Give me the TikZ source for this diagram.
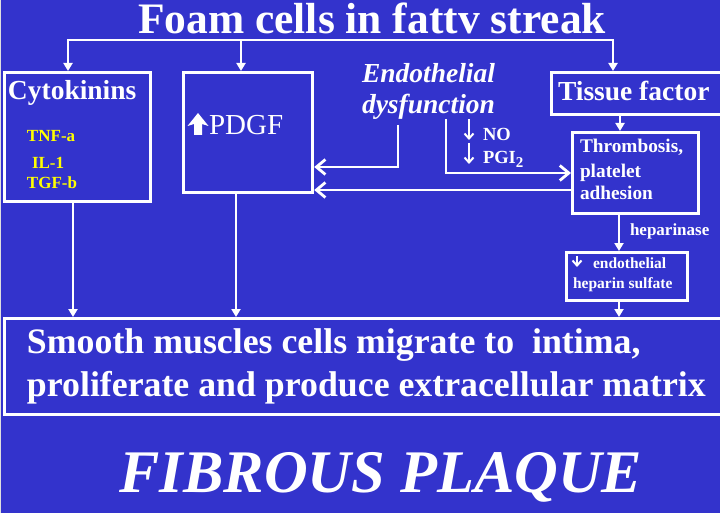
\documentclass[tikz,border=0pt]{standalone}
\usepackage{fontspec}
\setmainfont{Liberation Serif}
\usetikzlibrary{arrows.meta}
\definecolor{bgblue}{RGB}{51,51,204}
\definecolor{txtyellow}{RGB}{255,255,0}
\begin{document}
\begin{tikzpicture}[x=1pt,y=-1pt,
  box/.style={draw=white, line width=3.2pt, inner sep=0pt, anchor=north west},
  txt/.style={text=white, inner sep=0pt, outer sep=0pt, anchor=base west},
  fs/.style={font=\fontsize{#1}{#1}\selectfont\bfseries},
  conn/.style={draw=white, line width=2.8pt},
  tri/.style={conn, -{Triangle[length=8pt,width=9pt]}},
  chev/.style={conn, -{Straight Barb[length=9pt,width=15pt,line width=2.8pt]}},
  smallchev/.style={draw=white, line width=2pt, -{Straight Barb[length=5pt,width=9pt,line width=2pt]}}
]
\useasboundingbox (0,0) rectangle (722,513);
\fill[bgblue] (0,0) rectangle (722,513);
\draw[white!75!gray, line width=1.2pt] (0.6,0) -- (0.6,513);
\draw[white, line width=2pt] (721,0) -- (721,513);

% title
\node[txt, anchor=base, fs=43.5] (title) at (372,33.5) {Foam cells in fattv streak};

% boxes
\node[box, minimum width=146pt, minimum height=129pt] (cyto) at (3,71) {};
\node[box, minimum width=129pt, minimum height=120pt] (pdgf) at (182,71) {};
\node[box, minimum width=170pt, minimum height=42pt] (tissue) at (550,71) {};
\node[box, minimum width=126pt, minimum height=81pt] (thromb) at (571,131) {};
\node[box, minimum width=121pt, minimum height=48pt] (hep) at (565,251) {};
\node[box, minimum width=717pt, minimum height=96pt] (smooth) at (3,317) {};

% texts in boxes
\node[txt, fs=27.5] (cytot) at (8,100) {Cytokinins};
\node[txt, fs=17, text=txtyellow] (tnf) at (27,142) {TNF-a};
\node[txt, fs=17, text=txtyellow] (il) at (32,168) {IL-1};
\node[txt, fs=17, text=txtyellow] (tgf) at (27,189) {TGF-b};

\fill[white] (198,113) -- (208.5,126) -- (202,124) -- (202,135) -- (194,135) -- (194,124) -- (187.5,126) -- cycle;
\node[txt, font=\fontsize{29}{29}\selectfont] (pdgft) at (209,135) {PDGF};

\node[txt, font=\fontsize{27.5}{27.5}\selectfont\bfseries\itshape] (endo) at (362,83) {Endothelial};
\node[txt, font=\fontsize{27.5}{27.5}\selectfont\bfseries\itshape] (dys) at (362,114) {dysfunction};

\node[txt, fs=18.5] (no) at (483,141) {NO};
\node[txt, fs=18.5] (pgi) at (483,164) {PGI\raisebox{-4pt}{\fontsize{15}{15}\selectfont 2}};

\node[txt, fs=27.5] (tisst) at (558,101) {Tissue factor};
\node[txt, fs=19.3] (th1) at (580,153) {Thrombosis,};
\node[txt, fs=19.3] (th2) at (580,178) {platelet};
\node[txt, fs=19.3] (th3) at (580,200) {adhesion};

\node[txt, fs=17] (hepase) at (630,235) {heparinase};
\node[txt, fs=15.5] (hep1) at (593,268) {endothelial};
\node[txt, fs=15.5] (hep2) at (573,288) {heparin sulfate};

\node[txt, fs=35.8] (sm1) at (27,353) {Smooth muscles cells migrate to\ \ intima,};
\node[txt, fs=35.8] (sm2) at (27,396) {proliferate and produce extracellular matrix};

\node[txt, anchor=base, font=\fontsize{60.5}{60.5}\selectfont\bfseries\itshape] (fib) at (381,492) {FIBROUS PLAQUE};

% top bus
\coordinate (busL) at (68,40);
\coordinate (busM) at (241,40);
\coordinate (busR) at (613,40);
\draw[conn, line cap=rect] (busL) -- (busR);
\draw[tri] (busL) -- (busL |- cyto.north);
\draw[tri] (busM) -- (busM |- pdgf.north);
\draw[tri] (busR) -- (busR |- tissue.north);

% endothelial connectors
\coordinate (e1) at (398,125);
\coordinate (k1) at (398,167);
\draw[chev] (e1) -- (k1) -- (k1 -| pdgf.east);
\coordinate (e2) at (446,119);
\coordinate (k2) at (446,173);
\draw[chev] (e2) -- (k2) -- (k2 -| thromb.west);
\coordinate (k3) at (500,190);
\draw[chev] (k3 -| thromb.west) -- (k3 -| pdgf.east);

% NO / PGI2 small arrows
\coordinate (n1) at (469,119);
\coordinate (n2) at (469,140);
\coordinate (n3) at (469,143);
\coordinate (n4) at (469,164);
\draw[smallchev] (n1) -- (n2);
\draw[smallchev] (n3) -- (n4);

% tissue -> thrombosis -> heparin -> smooth
\coordinate (tf) at (620,0);
\draw[tri] (tf |- tissue.south) -- (tf |- thromb.north);
\coordinate (hx) at (619,0);
\draw[tri] (hx |- thromb.south) -- (hx |- hep.north);
\draw[tri] (hx |- hep.south) -- (hx |- smooth.north);
\coordinate (hd1) at (577,256);
\coordinate (hd2) at (577,267);
\draw[smallchev] (hd1) -- (hd2);

% cytokinins, PDGF -> smooth
\coordinate (cx) at (73,0);
\draw[tri] (cx |- cyto.south) -- (cx |- smooth.north);
\coordinate (px) at (236,0);
\draw[tri] (px |- pdgf.south) -- (px |- smooth.north);
\end{tikzpicture}
\end{document}
